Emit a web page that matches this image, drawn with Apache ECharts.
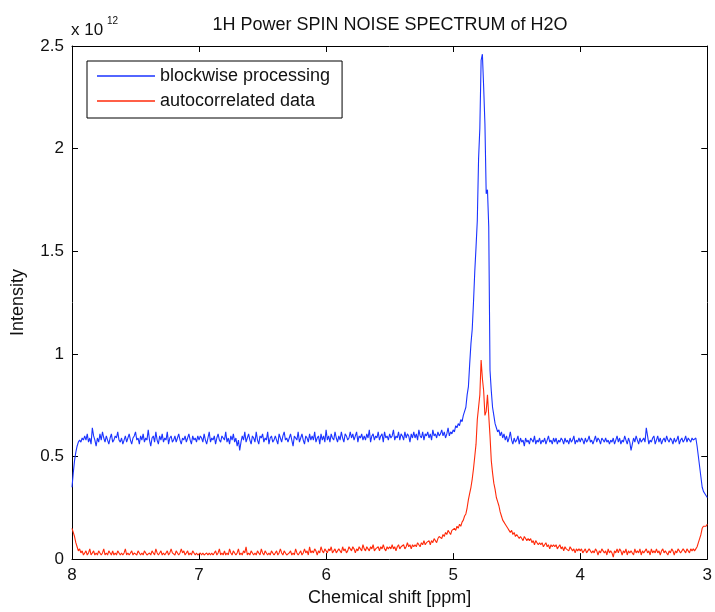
<!DOCTYPE html>
<html>
<head>
<meta charset="utf-8">
<script src="https://cdn.jsdelivr.net/npm/echarts@6/dist/echarts.min.js"></script>
<style>html,body{margin:0;padding:0;background:#fff;}#chart{width:715px;height:612px;}</style>
</head>
<body>
<div id="chart"></div>
<script>
// Sampling grid: chemical shift from 8.00 down to 3.00 ppm, step 0.01 ppm
const ppmStart = 8.00;
const ppmStep = 0.01;
const ppmCount = 501;

// Intensities in units of 1e10 (i.e. 0.01 x 10^12), one value per grid point
const blockwise = [
35,42,48,52,55,57,58,57,59,58,
60,58,61,57,59,56,64,60,58,55,
59,57,61,58,62,59,57,60,58,56,
59,61,57,58,60,59,62,58,57,59,
56,58,60,57,59,61,58,56,59,60,
62,58,59,56,60,58,61,57,59,58,
63,58,55,59,60,57,62,58,56,60,
58,61,57,59,58,62,56,59,60,57,
58,60,57,59,61,58,56,59,58,60,
57,59,61,58,56,60,58,59,57,60,
58,60,59,57,61,58,56,59,62,57,
59,58,60,56,59,61,58,57,60,59,
58,62,57,59,56,60,58,61,57,59,
55,58,53,57,60,58,62,57,59,61,
58,56,60,59,57,62,58,56,60,59,
61,57,59,58,62,56,59,60,57,58,
60,58,56,61,59,57,60,62,58,59,
57,59,61,58,55,60,59,58,62,57,
59,61,58,56,60,59,57,61,58,60,
58,62,57,59,60,56,61,58,60,57,
63,58,60,57,61,59,58,62,59,57,
60,58,62,59,57,61,60,58,59,62,
59,61,58,60,62,57,60,59,61,58,
60,58,61,59,63,57,60,61,58,60,
59,62,58,60,61,57,62,59,60,58,
61,59,60,63,58,60,59,62,58,61,
60,58,62,59,61,60,57,61,59,62,
59,61,58,63,60,59,62,58,61,60,
62,59,61,58,63,60,61,59,62,60,
61,63,60,62,59,61,64,60,62,61,
63,62,65,64,66,65,68,67,70,72,
74,80,84,95,105,112,125,140,152,165,
195,210,243,246,230,212,178,180,162,92,
82,74,70,66,64,62,63,60,62,59,
61,58,60,57,59,62,58,56,59,57,
58,60,56,59,57,58,55,59,57,58,
56,59,58,57,60,56,58,57,59,56,
58,57,59,56,58,60,57,58,56,59,
57,59,56,58,57,59,58,56,59,57,
58,56,59,57,58,60,56,58,57,59,
57,59,58,56,59,57,58,60,57,58,
56,58,60,57,59,58,56,59,58,57,
59,57,58,56,58,57,59,56,58,60,
57,59,56,58,57,60,58,56,59,57,
53,56,59,57,60,58,56,59,57,58,
59,57,64,60,56,58,57,59,60,56,
58,60,57,59,56,58,59,57,60,58,
57,59,58,56,59,57,58,60,56,58,
59,57,58,60,57,59,58,57,59,58,
58,59,55,50,45,40,35,33,32,31,
30
];

const autocorrelated = [
15,13,11,8,6,4,5,3,4,2,
3,4,2,3,5,2,3,4,2,3,
2,4,3,2,3,5,2,3,2,4,
3,2,4,2,3,2,4,3,2,3,
2,3,5,2,3,2,3,4,2,3,
3,2,4,3,2,3,2,4,3,2,
2,3,2,4,3,2,5,3,2,3,
4,2,3,2,3,4,2,3,5,3,
3,2,4,3,2,3,5,3,4,2,
3,4,2,3,2,4,3,2,3,2,
2,3,2,3,2,2,3,2,3,2,
3,2,3,4,2,3,5,2,3,2,
4,2,3,2,5,3,2,4,3,2,
3,5,2,3,2,4,3,6,2,3,
2,4,3,2,3,2,4,3,2,5,
3,2,4,3,2,3,2,4,3,2,
3,4,2,3,5,3,2,4,3,2,
2,3,4,2,3,2,5,3,2,3,
4,2,3,5,3,4,2,6,3,4,
3,5,4,2,4,3,6,4,3,5,
4,3,5,4,6,3,4,5,3,4,
5,4,3,6,4,5,3,4,6,5,
4,6,5,3,5,4,6,5,4,7,
5,4,6,5,4,6,5,7,4,5,
5,6,4,6,5,7,5,4,6,5,
6,5,7,5,6,4,6,7,5,6,
6,7,5,6,8,6,7,5,7,6,
7,6,8,7,6,8,7,9,7,8,
8,9,7,9,8,10,9,8,10,11,
11,10,12,11,13,12,14,13,12,14,
14,15,14,16,15,17,16,18,19,21,
22,25,29,32,35,39,44,50,56,68,
74,80,97,88,82,70,72,80,70,60,
48,42,37,34,30,28,26,23,21,19,
18,17,16,15,14,13,14,12,13,11,
12,11,10,11,10,9,11,10,9,10,
9,10,8,9,7,9,8,7,8,7,
8,6,7,8,6,7,5,7,6,7,
6,7,5,6,7,5,6,4,6,5,
5,4,6,5,4,5,3,5,4,5,
4,5,3,4,5,3,4,5,4,3,
4,3,5,4,2,4,3,5,4,3,
4,2,5,3,4,3,1,4,3,5,
3,5,4,2,4,3,5,2,4,3,
4,3,2,5,3,4,3,5,2,4,
3,4,5,3,4,2,5,3,4,3,
5,3,4,2,4,5,3,4,3,2,
4,3,5,4,2,4,3,5,4,3,
3,5,4,3,5,4,3,5,4,5,
4,5,6,8,10,12,15,16,16,16,
17
];

const xTicks = [3, 4, 5, 6, 7, 8];
const yTickLabels = ['0', '0.5', '1', '1.5', '2', '2.5'];

const ppm = [];
for (let i = 0; i < ppmCount; i++) ppm.push(+(ppmStart - i * ppmStep).toFixed(2));
const pairs = vals => vals.map((v, i) => [ppm[i], v]);

const FONT = 'Liberation Sans, Arial, Helvetica, sans-serif';
const chart = echarts.init(document.getElementById('chart'), null, {renderer: 'canvas'});

const axisCommon = {
  type: 'value',
  axisLine: {show: true, onZero: false, lineStyle: {color: '#000', width: 1}},
  axisTick: {show: true, inside: true, length: 6, lineStyle: {color: '#000'}},
  splitLine: {show: false}
};

chart.setOption({
  animation: false,
  backgroundColor: '#fff',
  graphic: [
    {type: 'text', x: 390, y: 25, style: {text: '1H Power SPIN NOISE SPECTRUM of H2O', font: '18px ' + FONT, fill: '#111', align: 'center', verticalAlign: 'middle'}},
    {type: 'text', x: 71, y: 30, style: {text: 'x 10', font: '17px ' + FONT, fill: '#111', align: 'left', verticalAlign: 'middle'}},
    {type: 'text', x: 107, y: 21, style: {text: '12', font: '10px ' + FONT, fill: '#111', align: 'left', verticalAlign: 'middle'}}
  ],
  grid: {left: 72, right: 3, top: 46, bottom: 52, containLabel: false},
  legend: {
    orient: 'vertical', left: 87, top: 61,
    data: ['blockwise processing', 'autocorrelated data'],
    icon: 'rect',
    itemWidth: 58, itemHeight: 1.5, itemGap: 7,
    padding: [6, 12, 8, 10],
    borderColor: '#000', borderWidth: 1, backgroundColor: '#fff',
    textStyle: {fontSize: 18, fontFamily: FONT, color: '#111'}
  },
  xAxis: [
    Object.assign({}, axisCommon, {
      min: 3, max: 8, interval: 1, inverse: true, position: 'bottom',
      axisLabel: {fontSize: 17, fontFamily: FONT, color: '#111', margin: 8,
        formatter: v => xTicks.indexOf(v) >= 0 ? String(v) : ''},
      name: 'Chemical shift [ppm]', nameLocation: 'middle', nameGap: 22,
      nameTextStyle: {fontSize: 18, fontFamily: FONT, color: '#111'}
    }),
    Object.assign({}, axisCommon, {
      min: 3, max: 8, interval: 1, inverse: true, position: 'top',
      axisLabel: {show: false}
    })
  ],
  yAxis: [
    Object.assign({}, axisCommon, {
      min: 0, max: 250, interval: 50, position: 'left',
      axisLabel: {fontSize: 17, fontFamily: FONT, color: '#111', margin: 8,
        formatter: v => yTickLabels[Math.round(v / 50)]},
      name: 'Intensity', nameLocation: 'middle', nameGap: 45,
      nameTextStyle: {fontSize: 18, fontFamily: FONT, color: '#111'}
    }),
    Object.assign({}, axisCommon, {
      min: 0, max: 250, interval: 50, position: 'right',
      axisLabel: {show: false}
    })
  ],
  series: [
    {name: 'blockwise processing', type: 'line', data: pairs(blockwise), symbol: 'none',
      color: '#1a33ff', lineStyle: {width: 1.1, color: '#1a33ff'}, z: 2, clip: true},
    {name: 'autocorrelated data', type: 'line', data: pairs(autocorrelated), symbol: 'none',
      color: '#ff2a0a', lineStyle: {width: 1.1, color: '#ff2a0a'}, z: 3, clip: true}
  ]
});
</script>
</body>
</html>
